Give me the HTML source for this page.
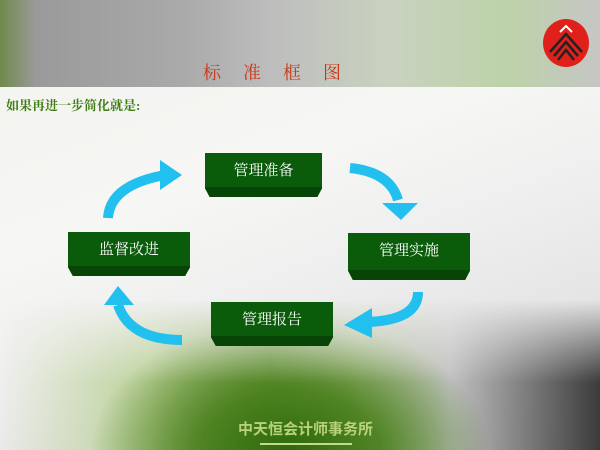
<!DOCTYPE html>
<html><head><meta charset="utf-8"><style>
body{margin:0;width:600px;height:450px;overflow:hidden;position:relative;font-family:"Liberation Serif","Noto Serif CJK SC",serif;
background:linear-gradient(160deg,#f2f3ef 0%,#f6f6f4 40%,#eeeeee 60%,#d8d8d8 100%);}
.top{position:absolute;left:0;top:0;width:600px;height:87px;background:linear-gradient(90deg,#6f8a4a 0%,#9a9a9a 6%,#a9a9a9 30%,#bdbdbd 45%,#c9d2bf 65%,#bcd2a8 85%,#c6c6c6 100%);}
.bot{position:absolute;left:0;top:300px;width:600px;height:150px;
background:radial-gradient(ellipse 200px 130px at 290px 150px,#2f6a0c 0%,rgba(70,125,25,.9) 45%,rgba(120,160,60,0) 100%),
linear-gradient(90deg,rgba(230,237,220,0) 0%,rgba(170,200,120,.7) 25%,rgba(100,145,40,.8) 45%,rgba(150,175,100,.6) 60%,rgba(180,180,180,.7) 75%,rgba(50,50,50,.95) 100%);
-webkit-mask:linear-gradient(180deg,transparent 0%,#000 55%);mask:linear-gradient(180deg,transparent 0%,#000 55%);}
.box{position:absolute;background:#0a5b0a;color:#fff;font-size:15px;text-align:center;box-sizing:border-box;padding-top:6px;
clip-path:polygon(0 0,100% 0,100% 80%,96% 100%,4% 100%,0 80%);}
.box:after{content:"";position:absolute;left:0;right:0;bottom:0;height:22%;background:#074507;}
</style></head><body>
<div class="top"></div>
<div class="bot"></div>
<div style="position:absolute;left:203px;top:59px;color:#c8361a;font-size:18px;letter-spacing:22px">标准框图</div>
<div style="position:absolute;left:6px;top:95px;color:#3f7d12;font-size:13px;font-weight:bold">如果再进一步简化就是:</div>
<svg style="position:absolute;left:540px;top:18px" width="52" height="50"><ellipse cx="26" cy="25" rx="23" ry="24" fill="#e0201a"/><path d="M10 34 L26 16 L42 34 M14 38 L26 24 L38 38 M18 42 L26 32 L34 42" stroke="#222" stroke-width="2.5" fill="none"/><path d="M20 14 L26 8 L32 14" stroke="#fff" stroke-width="2" fill="none"/></svg>
<div class="box" style="left:205px;top:153px;width:117px;height:44px">管理准备</div>
<div class="box" style="left:68px;top:232px;width:122px;height:44px">监督改进</div>
<div class="box" style="left:348px;top:233px;width:122px;height:47px">管理实施</div>
<div class="box" style="left:211px;top:302px;width:122px;height:44px">管理报告</div>
<svg style="position:absolute;left:0;top:0" width="600" height="450" fill="none">
<g stroke="#22c0ee" stroke-width="10">
<path d="M108 218 Q110 185 165 175"/>
<path d="M350 168 Q390 172 398 200"/>
<path d="M418 292 Q418 320 368 322"/>
<path d="M182 340 Q130 340 118 305"/>
</g>
<g fill="#22c0ee">
<polygon points="160,160 182,175 160,190"/>
<polygon points="382,203 418,203 401,220"/>
<polygon points="372,308 372,338 344,325"/>
<polygon points="104,305 134,305 118,286"/>
</g>
</svg>
<div style="position:absolute;left:238px;top:418px;color:#b7d27a;font-size:15px;font-weight:bold;font-family:'Liberation Sans','Noto Sans CJK SC',sans-serif">中天恒会计师事务所</div>
<div style="position:absolute;left:260px;top:443px;width:92px;height:2px;background:#c4d890"></div>
</body></html>
